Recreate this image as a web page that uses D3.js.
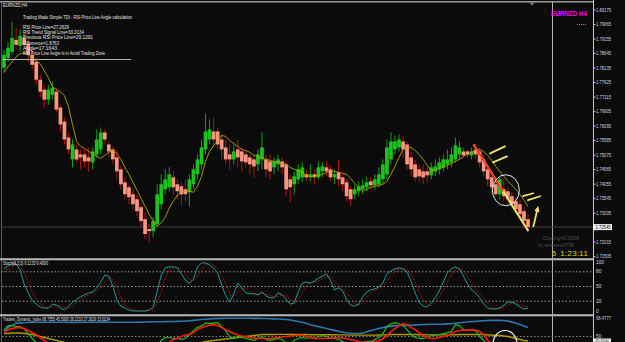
<!DOCTYPE html>
<html>
<head>
<meta charset="utf-8">
<script src="https://cdn.jsdelivr.net/npm/d3@7"></script>
<style>
body { margin: 0; background: #0b0b0b; }
svg { display: block; }
text { font-family: "Liberation Sans", Arial, sans-serif; }
</style>
</head>
<body>
<svg width="625" height="342"></svg>
<script>
// EURNZD H4 candles (131 bars)
const opens = [
1.78145,1.78495,1.78705,1.79125,1.78915,1.79195,1.78985,1.78600,1.78355,1.77725,
1.77375,1.77025,1.77200,1.77305,1.76745,1.76255,1.75695,1.74925,1.75275,1.75100,
1.75100,1.74995,1.74820,1.75100,1.75275,1.75870,1.75450,1.75275,1.74995,1.74575,
1.74120,1.73945,1.73700,1.73525,1.73245,1.72825,1.72475,1.72405,1.72650,1.73350,
1.73875,1.73945,1.74295,1.74050,1.73980,1.73875,1.73770,1.74050,1.74400,1.74750,
1.75275,1.75625,1.75905,1.75905,1.75625,1.75345,1.75100,1.74925,1.75275,1.75205,
1.75100,1.74995,1.74925,1.74750,1.74925,1.74925,1.74855,1.74645,1.74750,1.74855,
1.74750,1.74225,1.74050,1.74225,1.74295,1.74400,1.74295,1.74400,1.74295,1.74505,
1.74645,1.74575,1.74295,1.74470,1.74295,1.74120,1.73875,1.73700,1.73805,1.73875,
1.73945,1.74155,1.74015,1.74050,1.74225,1.74400,1.74925,1.75275,1.75345,1.75555,
1.75450,1.74995,1.74750,1.74575,1.74505,1.74505,1.74365,1.74505,1.74575,1.74645,
1.74750,1.74820,1.74925,1.75100,1.75205,1.75205,1.75065,1.75275,1.75205,1.74925,
1.74575,1.74295,1.74050,1.73700,1.73875,1.73805,1.73630,1.73455,1.73350,1.73105,
1.72825];
const highs = [
1.78775,1.79055,1.79755,1.79545,1.79475,1.79405,1.79125,1.78775,1.78495,1.77900,
1.77550,1.77550,1.77655,1.77445,1.76850,1.76395,1.75870,1.75625,1.75450,1.75275,
1.75275,1.75345,1.75345,1.75975,1.76045,1.75975,1.75555,1.75380,1.75275,1.74715,
1.74295,1.74050,1.73875,1.73700,1.73350,1.73070,1.72650,1.72895,1.74050,1.74400,
1.74575,1.74645,1.74505,1.74225,1.74120,1.74225,1.74400,1.74750,1.75100,1.75625,
1.76535,1.76325,1.76395,1.76045,1.75800,1.75625,1.75450,1.75450,1.75625,1.75345,
1.75275,1.75100,1.75100,1.75275,1.75870,1.75100,1.75100,1.74995,1.75100,1.74995,
1.74855,1.74400,1.74505,1.74750,1.74820,1.74575,1.74750,1.74575,1.74855,1.74820,
1.74855,1.74715,1.74575,1.74925,1.74400,1.74225,1.73980,1.74050,1.74155,1.74225,
1.74295,1.74295,1.74400,1.74645,1.74925,1.75625,1.75870,1.75765,1.75800,1.75730,
1.75555,1.75205,1.74925,1.74750,1.74750,1.74645,1.74820,1.74925,1.74995,1.75100,
1.75275,1.75345,1.75695,1.75555,1.75345,1.75275,1.75345,1.75450,1.75345,1.75100,
1.74750,1.74505,1.74225,1.74295,1.74225,1.73945,1.73770,1.73595,1.73525,1.73245,
1.73000];
const lows = [
1.78005,1.78355,1.78600,1.78775,1.78705,1.78845,1.78355,1.78075,1.77550,1.77095,
1.76745,1.76850,1.77025,1.76570,1.75905,1.75450,1.75100,1.74645,1.74820,1.74575,
1.74645,1.74505,1.74575,1.74995,1.75100,1.75450,1.74995,1.74750,1.74225,1.73875,
1.73525,1.73350,1.73175,1.72930,1.72545,1.72125,1.72020,1.72195,1.72545,1.73175,
1.73700,1.73805,1.73700,1.73525,1.73315,1.73455,1.73280,1.73875,1.74225,1.74575,
1.75100,1.75450,1.75345,1.75275,1.74925,1.74750,1.74575,1.74750,1.74645,1.74505,
1.74645,1.74400,1.74295,1.74505,1.74575,1.74295,1.74225,1.74400,1.74505,1.74400,
1.73630,1.73420,1.73700,1.74050,1.74120,1.74155,1.74155,1.74050,1.74225,1.74295,
1.74330,1.74155,1.74050,1.73980,1.73805,1.73455,1.73280,1.73525,1.73630,1.73700,
1.73805,1.73875,1.73875,1.73945,1.74050,1.74225,1.74750,1.75100,1.75205,1.74995,
1.74575,1.74330,1.74155,1.74120,1.74050,1.74120,1.74225,1.74330,1.74400,1.74505,
1.74575,1.74645,1.74820,1.74925,1.74995,1.74995,1.74925,1.74925,1.74645,1.74330,
1.73980,1.73700,1.73595,1.73525,1.73455,1.73350,1.73175,1.73000,1.72825,1.72545,
1.72440];
const closes = [
1.78600,1.78845,1.79195,1.78950,1.79265,1.78950,1.78600,1.78250,1.77725,1.77305,
1.77025,1.77375,1.77445,1.76675,1.76150,1.75625,1.75275,1.75450,1.74925,1.74995,
1.74855,1.74855,1.75205,1.75625,1.75870,1.75625,1.75205,1.74925,1.74505,1.74050,
1.73700,1.73595,1.73350,1.73105,1.72755,1.72300,1.72405,1.72755,1.73700,1.74050,
1.74225,1.74400,1.73945,1.73805,1.73700,1.73700,1.74225,1.74575,1.74925,1.75345,
1.75905,1.75975,1.75625,1.75450,1.75275,1.74925,1.74925,1.75205,1.74995,1.74855,
1.74820,1.74750,1.74680,1.75100,1.75345,1.74575,1.74505,1.74855,1.74925,1.74645,
1.73875,1.73945,1.74330,1.74575,1.74645,1.74295,1.74400,1.74295,1.74645,1.74680,
1.74505,1.74295,1.74400,1.74225,1.74050,1.73630,1.73525,1.73875,1.73980,1.74015,
1.74120,1.74015,1.74225,1.74400,1.74750,1.75345,1.75555,1.75555,1.75625,1.75275,
1.74750,1.74575,1.74295,1.74330,1.74295,1.74365,1.74645,1.74680,1.74820,1.74925,
1.74925,1.75100,1.75415,1.75345,1.75065,1.75100,1.75205,1.75100,1.74820,1.74505,
1.74225,1.73945,1.73700,1.74225,1.73630,1.73525,1.73350,1.73175,1.73000,1.72755,
1.72545];
// moving average on the price window
const maValues = [
1.77970,1.78180,1.78355,1.78530,1.78635,1.78670,1.78600,1.78495,1.78390,1.78285,
1.78040,1.77795,1.77480,1.77375,1.77305,1.77165,1.76780,1.76150,1.75555,1.75380,
1.75310,1.75205,1.75135,1.75030,1.74960,1.75065,1.75170,1.75240,1.75135,1.74925,
1.74645,1.74400,1.74120,1.73840,1.73560,1.73280,1.73000,1.72755,1.72580,1.72685,
1.72895,1.73210,1.73455,1.73665,1.73770,1.73805,1.73805,1.73770,1.73980,1.74330,
1.74855,1.75205,1.75415,1.75555,1.75765,1.75730,1.75590,1.75485,1.75380,1.75275,
1.75240,1.75170,1.75065,1.75030,1.74960,1.74925,1.74890,1.74855,1.74820,1.74785,
1.74750,1.74645,1.74575,1.74540,1.74470,1.74365,1.74330,1.74330,1.74365,1.74400,
1.74470,1.74505,1.74505,1.74470,1.74435,1.74400,1.74260,1.74085,1.73945,1.73805,
1.73875,1.73945,1.73980,1.74015,1.74050,1.74155,1.74400,1.74680,1.74995,1.75275,
1.75345,1.75345,1.75240,1.75100,1.74925,1.74715,1.74540,1.74540,1.74610,1.74645,
1.74715,1.74785,1.74855,1.74925,1.75030,1.75100,1.75170,1.75240,1.75275,1.75205,
1.75065,1.74890,1.74680,1.74505,1.74330,1.74155,1.74015,1.73875,1.73700,1.73490,
1.73280];

// Stoch(8,3,3)
const stochMain = [
86,92,96,96,84,55,37,22,14,8, 6,6,14,12,6,2,10,18,24,29,
33,37,39,47,59,73,71,51,22,10, 6,2,0,0,0,0,2,8,39,73,
88,90,90,88,76,63,57,65,90,98, 98,94,88,78,53,31,18,35,57,47,
37,35,35,33,39,31,27,27,37,33, 24,14,16,39,57,59,57,61,67,71,
76,63,43,47,41,24,12,10,14,29, 39,43,45,49,57,76,82,86,88,86,
80,61,37,18,10,8,16,27,41,59, 78,86,90,86,71,55,43,37,27,14,
6,4,4,6,12,18,18,14,8,4, 6.1133];
const stochSignal = [
80,85,91,95,92,78,59,38,24,15, 9,7,9,11,11,7,6,10,17,24,
29,33,36,41,48,60,68,65,48,28, 13,6,3,1,0,0,1,3,16,40,
67,84,89,89,85,76,65,62,71,84, 95,97,93,87,73,54,34,28,37,46,
47,40,36,34,36,34,32,28,30,32, 31,24,18,23,37,52,58,59,62,66,
71,70,61,51,44,37,26,15,12,18, 27,37,42,46,50,61,72,81,85,87,
85,76,59,39,22,12,11,17,28,42, 59,74,85,87,82,71,56,45,36,26,
16,8,5,5,7,12,16,17,13,9, 9.4];
const stochLevels = [80, 50, 20];
const stochTicks = [100, 80, 50, 20, 0];

// Traders Dynamic Index
const tdiUpper = [
56.2,59.2,61.3,63.4,63.8,64.0,64.2,64.4,64.4,64.4, 64.4,64.4,64.4,64.5,64.5,64.4,64.4,64.3,64.3,64.4,
64.4,64.5,64.5,64.5,64.6,64.6,64.5,64.5,64.4,64.4, 64.4,64.5,64.5,64.5,64.6,64.7,64.8,64.9,65.0,65.0,
65.1,65.2,65.3,65.4,65.5,65.6,66.0,66.4,66.8,67.2, 67.5,67.8,68.1,68.3,68.4,68.5,68.5,68.5,68.5,68.5,
68.5,68.5,68.4,68.4,68.3,68.2,68.0,67.9,67.7,67.5, 67.3,66.8,66.0,65.2,64.4,63.4,62.0,61.0,60.0,59.2,
58.2,57.2,56.2,55.2,54.4,53.8,53.3,53.0,53.0,53.5, 54.8,56.0,57.2,58.2,59.2,60.0,60.5,61.0,61.2,61.3,
61.3,61.5,61.8,62.0,62.2,62.3,62.4,62.4,62.5,62.6, 62.8,63.0,63.5,64.0,64.4,64.8,65.2,65.4,65.7,66.0,
66.2,66.4,66.4,66.4,66.2,65.6,64.6,63.5,62.2,60.6, 59.2];
const tdiBase = [
53,53,53.5,53.5,53.5,53,52.5,52,51,50, 49,48,47,46,45,44,43,42,41,40,
39,38,37.5,37,37,36.5,36,36,35.5,35, 35,34.5,34,34,33.5,33.5,33,33,33.5,34,
35,36,37,38,39,40,41,42,43,44, 45,45.5,46,46.5,47,47.5,48,48.5,49,49.5,
50,50.5,51,51.5,52,52,52,52,52.2,52.2, 52.2,52,52,52,52,52,51.8,51.8,51.8,51.8,
51.8,51.8,51.8,51.6,51.6,51.6,51.4,51.4,51.4,51.4, 51.4,51.4,51.4,51.5,51.6,51.8,52,52,52,52,
52,52,52,51.8,51.8,51.6,51.6,51.6,51.6,51.6, 51.6,51.6,51.8,52,52,52,52,52,52,52,
51.5,51.5,51,51,50.5,50,49,48,47,46, 45.5];
const tdiRsi = [
56,61,61,60,60,58,53,48,44,40, 37,38,39,34,30,27,25,30,28,28,
29,30,34,39,42,41,38,34,29,25, 22,21,19,18,16,15,16,20,36,46,
49,49,48,48,47,48,52,56,59,61, 63.5,63,63.5,64,60,56,50,48,50,49,
48,47,46,48,50,47,46,47,48,47, 43,42,46,48,49,48,49,48,50,51,
50,48,48,47,45,41,39,42,44,44, 45,45,47,49,53,60,63,64,63,61,
57,52,49,48,48,49,51,51,52,53, 54,55,62,61,57,56,57,56,50,46,
41,37,34,38,34,32,30,29,28,27.5, 27.2629];
const tdiSignal = [
54,57,58,59,59,58,56,54,52,49, 46,43,41,39,37,35,32,30,29,29,
29,30,31,33,36,38,39,38,36,33, 30,27,24,22,20,19,18,18,22,30,
38,44,47,48,50,51.5,52,54,57,59, 60.5,61.5,62,61,59,57,55,53,51.5,50.5,
50,49,48.5,48,48,48,48,48.5,49,49.5, 50,50.5,51,51,51.5,50,49,48,48,48,
48,48.5,48.5,49,48.5,48,47,46,45,44, 44,44,45,46,48,51,55,58,61,63,
62,59,57,54,51,49,48,48,49,50, 51,53,55,56,56.5,56.5,56.5,56.5,55,52,
46,43,40,38,37,36,35,34.5,34,33.5, 33.0134];

// price axis labels
const priceTicks = [1.80175,1.79665,1.79155,1.78645,1.78135,1.77625,1.77115,1.76605,1.76095,
  1.75585,1.75075,1.74565,1.74055,1.73545,1.73035,1.72525,1.72015,1.71505];

// info panel text
const infoLines = [
  {t: "RSI Price Line=27.2629", w: 46},
  {t: "RSI Trend Signal Line=33.0134", w: 61},
  {t: "Previous RSI Price Line=29.1391", w: 70},
  {t: "Difference=1.8763", w: 36},
  {t: "Angle=17.1643", w: 34},
  {t: "RSI Price Line Angle is in Avoid Trading Zone", w: 82}
];

// hand drawn marks, anchored as [bar index, price]
const trendYellow = [[116.5, 1.75450], [130.1, 1.72405]];
const trendRed = [[116.5, 1.75450], [123.8, 1.73805]];
const dashMarks = [
  [[120.6, 1.75135], [124.3, 1.75380]],
  [[121.3, 1.74820], [124.8, 1.75030]],
  [[128.8, 1.73630], [131.3, 1.73735]],
  [[130.0, 1.73490], [133.0, 1.73630]]
];
const arrowMark = [[131.3, 1.72545], [132.4, 1.73210]];
const ringMain = [124.5, 1.73840];
const ringTdi = [124.3, 42.9];

const svg = d3.select("svg");
svg.append("rect").attr("width", 625).attr("height", 342).attr("fill", "#0b0b0b");

const plotRight = 593;
const x = d3.scaleLinear().domain([0, closes.length - 1]).range([4, 528]);
const y = d3.scaleLinear().domain([1.71505, 1.80175]).range([256.7, 10]);
const yStoch = d3.scaleLinear().domain([0, 100]).range([311, 262]);
const yTdi = d3.scaleLinear().domain([50, 68.4777]).range([336.5, 318.3]);

const defs = svg.append("defs");
function clip(id, y0, h) {
  defs.append("clipPath").attr("id", id).append("rect")
    .attr("x", 2).attr("y", y0).attr("width", plotRight - 2).attr("height", h);
}
clip("cMain", 3, 255);
clip("cStoch", 261, 52.5);
clip("cTdi", 316.8, 26);

// frame lines
svg.append("line").attr("x1", 0).attr("x2", plotRight).attr("y1", 1.8).attr("y2", 1.8)
  .attr("stroke", "#9a9a9a").attr("stroke-width", 1.6);
svg.append("line").attr("x1", 1.5).attr("x2", 1.5).attr("y1", 2).attr("y2", 342)
  .attr("stroke", "#5a5a5a");
[259.3, 315.2].forEach(v => {
  svg.append("line").attr("x1", 0).attr("x2", plotRight).attr("y1", v).attr("y2", v)
    .attr("stroke", "#b8b8b8").attr("stroke-width", 2);
});
svg.append("line").attr("x1", plotRight + 0.5).attr("x2", plotRight + 0.5).attr("y1", 0).attr("y2", 342)
  .attr("stroke", "#c8c8c8");
svg.append("line").attr("x1", 552.5).attr("x2", 552.5).attr("y1", 2).attr("y2", 342)
  .attr("stroke", "#b0b0b0");
svg.append("path").attr("d", "M529,2.5 L535,2.5 L532,5.5 Z").attr("fill", "#777");

// ---------- main window ----------
const main = svg.append("g").attr("clip-path", "url(#cMain)");

// bid line
main.append("line").attr("x1", 2).attr("x2", plotRight)
  .attr("y1", y(closes[closes.length - 1])).attr("y2", y(closes[closes.length - 1]))
  .attr("stroke", "#3c3c3c");

const bars = closes.map((c, i) => ({i: i, o: opens[i], h: highs[i], l: lows[i], c: c}));
const cg = main.append("g").selectAll("g").data(bars).enter().append("g");
cg.append("line")
  .attr("x1", d => x(d.i)).attr("x2", d => x(d.i))
  .attr("y1", d => y(d.h)).attr("y2", d => y(d.l))
  .attr("stroke", d => d.c >= d.o ? "#13a313" : "#b81010");
cg.append("rect")
  .attr("x", d => x(d.i) - 1.85).attr("width", 3.7)
  .attr("y", d => y(Math.max(d.o, d.c)))
  .attr("height", d => Math.max(1, Math.abs(y(d.o) - y(d.c))))
  .attr("fill", d => d.c >= d.o ? "#1cc21c" : "#f99580");

main.append("path").datum(maValues)
  .attr("d", d3.line().x((d, i) => x(i)).y(d => y(d)))
  .attr("fill", "none").attr("stroke", "#b8a400").attr("stroke-width", 0.9);

// drawings
const pt = p => [x(p[0]), y(p[1])];
const seg = d3.line().x(p => pt(p)[0]).y(p => pt(p)[1]);
main.append("path").attr("d", seg(trendYellow)).attr("stroke", "#f4e36a").attr("stroke-width", 2);
main.append("path").attr("d", seg(trendRed)).attr("stroke", "#ff2a10").attr("stroke-width", 1.8);
dashMarks.forEach(m => {
  main.append("path").attr("d", seg(m)).attr("stroke", "#f4e36a").attr("stroke-width", 1.8)
    .attr("stroke-linecap", "round");
});
{
  const a = pt(arrowMark[0]), b = pt(arrowMark[1]);
  main.append("line").attr("x1", a[0]).attr("y1", a[1]).attr("x2", b[0]).attr("y2", b[1])
    .attr("stroke", "#f4e36a").attr("stroke-width", 1.8);
  const dx = b[0] - a[0], dy = b[1] - a[1], len = Math.hypot(dx, dy);
  const ux = dx / len, uy = dy / len;
  const tip = [b[0] + ux * 2.5, b[1] + uy * 2.5];
  const back = [tip[0] - ux * 6, tip[1] - uy * 6];
  main.append("path")
    .attr("d", `M${tip} L${back[0] - uy * 2.6},${back[1] + ux * 2.6} L${back[0] + uy * 2.6},${back[1] - ux * 2.6} Z`)
    .attr("fill", "#f4e36a");
}
main.append("ellipse").attr("cx", x(ringMain[0])).attr("cy", y(ringMain[1]))
  .attr("rx", 13.5).attr("ry", 15.5).attr("fill", "none").attr("stroke", "#e8e8e8").attr("stroke-width", 1);

// info panel
const info = svg.append("g").attr("fill", "#e6e6e6").attr("font-size", 4.6);
info.append("text").attr("x", 3).attr("y", 7).attr("textLength", 24)
  .attr("lengthAdjust", "spacingAndGlyphs").text("EURNZD,H4");
info.append("text").attr("x", 23).attr("y", 18.8).attr("textLength", 109)
  .attr("lengthAdjust", "spacingAndGlyphs").text("Trading Made Simple.TDI - RSI Price Line Angle calculation");
info.selectAll("text.l").data(infoLines).enter().append("text").attr("class", "l")
  .attr("x", 23).attr("y", (d, i) => 28.6 + i * 5.3)
  .attr("textLength", d => d.w).attr("lengthAdjust", "spacingAndGlyphs").text(d => d.t);
svg.append("line").attr("x1", 3).attr("x2", 131).attr("y1", 59.5).attr("y2", 59.5)
  .attr("stroke", "#c8c8c8").attr("stroke-width", 0.9);

svg.append("text").attr("x", 551).attr("y", 16).attr("fill", "#ff00ff")
  .attr("font-size", 7.6).attr("font-weight", "bold").attr("textLength", 36)
  .attr("lengthAdjust", "spacingAndGlyphs").text("EURNZD H4");
svg.append("line").attr("x1", 577).attr("x2", 587).attr("y1", y(priceTicks[1])).attr("y2", y(priceTicks[1]))
  .attr("stroke", "#a88a2a").attr("stroke-dasharray", "1,1");

svg.append("text").attr("x", 543).attr("y", 240).attr("fill", "#4e4e4e").attr("font-size", 5.4)
  .attr("textLength", 36).attr("lengthAdjust", "spacingAndGlyphs").text("Copyright©2008");
svg.append("text").attr("x", 538).attr("y", 247).attr("fill", "#4e4e4e").attr("font-size", 5.4)
  .attr("textLength", 36).attr("lengthAdjust", "spacingAndGlyphs").text("by andrewss7788");
svg.append("text").attr("x", 552).attr("y", 255.5).attr("fill", "#d6d600").attr("font-size", 7.5)
  .attr("font-family", "DejaVu Sans Mono").text("5");
svg.append("text").attr("x", 560).attr("y", 255.5).attr("fill", "#d6d600").attr("font-size", 7.5)
  .attr("font-family", "DejaVu Sans Mono").attr("textLength", 28)
  .attr("lengthAdjust", "spacingAndGlyphs").text("1:23:11");

// price axis
const pax = svg.append("g");
priceTicks.forEach(v => {
  pax.append("line").attr("x1", plotRight).attr("x2", plotRight + 2.5).attr("y1", y(v)).attr("y2", y(v))
    .attr("stroke", "#c8c8c8");
  pax.append("text").attr("x", 596).attr("y", y(v)).attr("dy", "0.35em")
    .attr("fill", "#d8d8d8").attr("font-size", 4.8).attr("textLength", 15)
    .attr("lengthAdjust", "spacingAndGlyphs").text(d3.format(".5f")(v));
});
{
  const last = closes[closes.length - 1];
  pax.append("rect").attr("x", plotRight).attr("y", y(last) - 3).attr("width", 19).attr("height", 6)
    .attr("fill", "#f4f4f4");
  pax.append("text").attr("x", 595.5).attr("y", y(last)).attr("dy", "0.35em")
    .attr("fill", "#000").attr("font-size", 4.8).attr("textLength", 15)
    .attr("lengthAdjust", "spacingAndGlyphs").text(d3.format(".5f")(last));
}

// ---------- stochastic window ----------
const st = svg.append("g").attr("clip-path", "url(#cStoch)");
stochLevels.forEach(v => {
  st.append("line").attr("x1", 2).attr("x2", plotRight).attr("y1", yStoch(v)).attr("y2", yStoch(v))
    .attr("stroke", "#9a9a9a").attr("stroke-dasharray", "1.5,2");
});
st.append("path").datum(stochSignal)
  .attr("d", d3.line().x((d, i) => x(i)).y(d => yStoch(d)))
  .attr("fill", "none").attr("stroke", "#cc1414").attr("stroke-dasharray", "1.5,1.5");
st.append("path").datum(stochMain)
  .attr("d", d3.line().x((d, i) => x(i)).y(d => yStoch(d)))
  .attr("fill", "none").attr("stroke", "#1f9c9c").attr("stroke-width", 1);
svg.append("text").attr("x", 3).attr("y", 264.5).attr("fill", "#e0e0e0").attr("font-size", 4.6)
  .attr("textLength", 45).attr("lengthAdjust", "spacingAndGlyphs").text("Stoch(8,3,3) 6.1133 9.4000");
stochTicks.forEach(v => {
  svg.append("text").attr("x", 596).attr("y", yStoch(v)).attr("dy", "0.35em")
    .attr("fill", "#d8d8d8").attr("font-size", 4.8).text(v);
});

// ---------- TDI window ----------
const td = svg.append("g").attr("clip-path", "url(#cTdi)");
td.append("line").attr("x1", 2).attr("x2", plotRight).attr("y1", yTdi(50)).attr("y2", yTdi(50))
  .attr("stroke", "#8a8a8a").attr("stroke-dasharray", "1.5,2");
const tdiLine = d3.line().x((d, i) => x(i)).y(d => yTdi(d));
[[tdiUpper, "#2878b4", 1.6], [tdiBase, "#a89a00", 1.4], [tdiRsi, "#18c018", 1.2], [tdiSignal, "#ff1a0a", 1.6]]
  .forEach(s => {
    td.append("path").datum(s[0]).attr("d", tdiLine)
      .attr("fill", "none").attr("stroke", s[1]).attr("stroke-width", s[2]);
  });
td.append("ellipse").attr("cx", x(ringTdi[0])).attr("cy", yTdi(ringTdi[1]))
  .attr("rx", 12).attr("ry", 13).attr("fill", "none").attr("stroke", "#f0f0f0").attr("stroke-width", 1.2);
svg.append("text").attr("x", 3).attr("y", 320.5).attr("fill", "#e0e0e0").attr("font-size", 4.6)
  .attr("textLength", 107).attr("lengthAdjust", "spacingAndGlyphs")
  .text("Traders_Dynamic_Index 68.7555 45.5000 28.2133 27.2629 33.0134");
svg.append("text").attr("x", 596).attr("y", 318.3).attr("dy", "0.35em").attr("fill", "#d8d8d8")
  .attr("font-size", 4.8).attr("textLength", 15).attr("lengthAdjust", "spacingAndGlyphs").text("68.4777");
svg.append("text").attr("x", 596).attr("y", 336).attr("dy", "0.35em").attr("fill", "#d8d8d8")
  .attr("font-size", 4.8).text("50");
svg.append("rect").attr("x", plotRight).attr("y", 338.5).attr("width", 18).attr("height", 4).attr("fill", "#efefef");
svg.append("text").attr("x", 595).attr("y", 341.8).attr("fill", "#333").attr("font-size", 4.2)
  .attr("textLength", 14).attr("lengthAdjust", "spacingAndGlyphs").text("45.5000");
</script>
</body>
</html>
